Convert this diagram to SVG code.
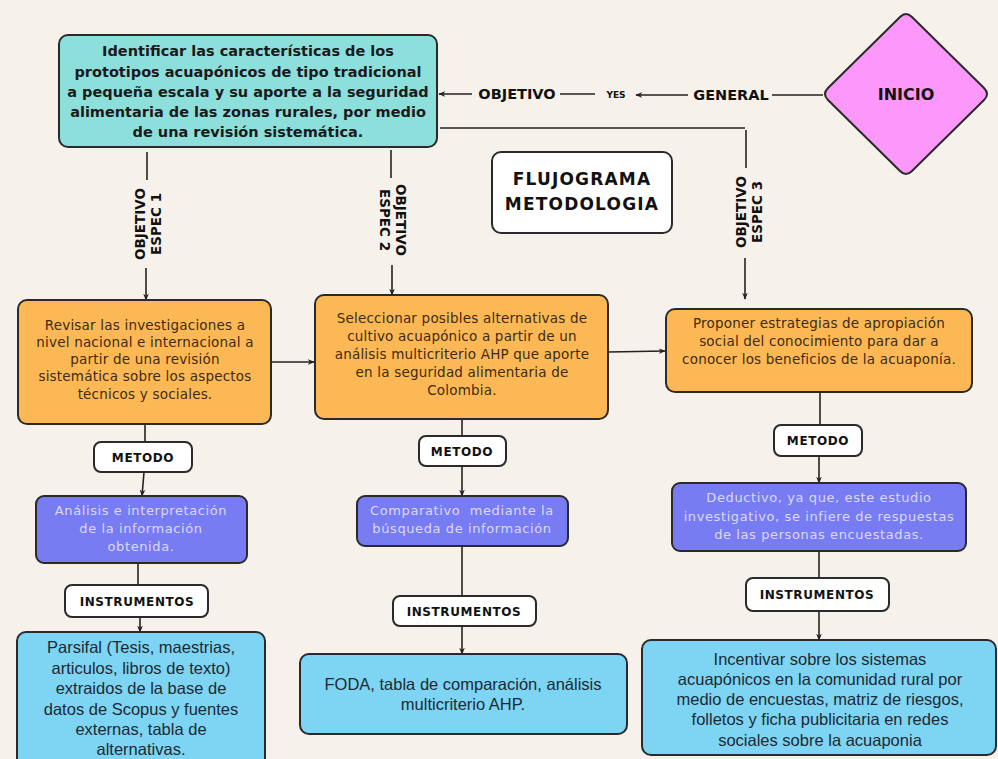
<svg xmlns="http://www.w3.org/2000/svg" width="998" height="759" viewBox="0 0 998 759">
<defs>
<marker id="ah" viewBox="0 0 10 10" refX="9" refY="5" markerWidth="7" markerHeight="7" orient="auto" markerUnits="userSpaceOnUse">
<path d="M0,1 L10,5 L0,9 L3,5 Z" fill="#222"/>
</marker>
<style>
.bg{fill:#f6f2eb}
.box{stroke:#2a2a2a;stroke-width:2}
.teal{fill:#8ddfdc}
.org{fill:#fdb856}
.pur{fill:#777cf3}
.blu{fill:#7dd4f3}
.wht{fill:#ffffff}
.pink{fill:#fc98fa}
.ln{stroke:#222;stroke-width:1.6;fill:none}
.arr{stroke:#222;stroke-width:1.6;fill:none;marker-end:url(#ah)}
.hd{font-family:"DejaVu Sans","Liberation Sans",sans-serif;font-weight:bold;fill:#111;text-anchor:middle}
.tt{font-family:"DejaVu Sans","Liberation Sans",sans-serif;font-weight:bold;fill:#1a1a1a;text-anchor:middle;font-size:14.5px}
.ot{font-family:"DejaVu Sans","Liberation Sans",sans-serif;fill:#3b2c12;text-anchor:middle;font-size:13.5px;letter-spacing:0.2px}
.pt{font-family:"DejaVu Sans","Liberation Sans",sans-serif;fill:#dcd8ff;text-anchor:middle;font-size:13px;letter-spacing:0.6px}
.bt{font-family:"Liberation Sans","DejaVu Sans",sans-serif;fill:#1e2a33;text-anchor:middle;font-size:16.5px}
.lb{font-family:"DejaVu Sans","Liberation Sans",sans-serif;font-weight:bold;fill:#111;text-anchor:middle;font-size:12px;letter-spacing:0.6px}
.vl{font-family:"DejaVu Sans","Liberation Sans",sans-serif;font-weight:bold;fill:#111;text-anchor:middle;font-size:13.5px}
</style>
</defs>
<rect class="bg" x="0" y="0" width="998" height="759"/>

<g id="connectors">
<line class="arr" x1="472" y1="94" x2="439" y2="94"/>
<line class="ln" x1="560" y1="94" x2="595" y2="94"/>
<line class="arr" x1="688" y1="95" x2="636" y2="95"/>
<line class="ln" x1="772" y1="95" x2="823" y2="95"/>
<line class="ln" x1="440" y1="128" x2="745" y2="128"/>
<line class="ln" x1="746" y1="130" x2="746" y2="168"/>
<line class="arr" x1="745" y1="258" x2="745" y2="299"/>
<line class="ln" x1="147" y1="152" x2="147" y2="180"/>
<line class="arr" x1="146" y1="268" x2="146" y2="300"/>
<line class="ln" x1="391" y1="150" x2="391" y2="178"/>
<line class="arr" x1="392" y1="265" x2="392" y2="295"/>
<line class="arr" x1="271" y1="362" x2="314" y2="362"/>
<line class="arr" x1="608" y1="352" x2="665" y2="351"/>
<line class="ln" x1="145" y1="424" x2="145" y2="442"/>
<line class="arr" x1="144" y1="472" x2="142" y2="496"/>
<line class="ln" x1="138" y1="563" x2="138" y2="585"/>
<line class="arr" x1="140" y1="617" x2="140" y2="632"/>
<line class="ln" x1="462" y1="419" x2="462" y2="436"/>
<line class="arr" x1="462" y1="466" x2="462" y2="496"/>
<line class="ln" x1="462" y1="546" x2="462" y2="596"/>
<line class="arr" x1="462" y1="626" x2="462" y2="654"/>
<line class="ln" x1="820" y1="392" x2="820" y2="425"/>
<line class="arr" x1="819" y1="456" x2="819" y2="483"/>
<line class="ln" x1="819" y1="551" x2="819" y2="578"/>
<line class="arr" x1="819" y1="611" x2="819" y2="640"/>
</g>

<g id="labels">
<text class="hd" x="517" y="99" font-size="14.5">OBJETIVO</text>
<text class="hd" x="616" y="98" font-size="9">YES</text>
<text class="hd" x="731" y="100" font-size="14.5">GENERAL</text>
<text class="vl" transform="translate(148,224) rotate(-90)"><tspan x="0" y="-3">OBJETIVO</tspan><tspan x="0" y="13">ESPEC 1</tspan></text>
<text class="vl" transform="translate(393,220) rotate(90)"><tspan x="0" y="-3">OBJETIVO</tspan><tspan x="0" y="13">ESPEC 2</tspan></text>
<text class="vl" transform="translate(749,212) rotate(-90)"><tspan x="0" y="-3">OBJETIVO</tspan><tspan x="0" y="13">ESPEC 3</tspan></text>
</g>

<g id="inicio">
<path class="box pink" d="M900,17 Q906,11 912,17 L984,88 Q990,94 984,100 L912,171 Q906,177 900,171 L828,100 Q822,94 828,88 Z"/>
<text class="hd" x="906" y="100" font-size="16">INICIO</text>
</g>

<g id="objetivo-general">
<rect class="box teal" x="59" y="35" width="378" height="112" rx="9"/>
<text class="tt" x="248" y="56">Identificar las características de los</text>
<text class="tt" x="248" y="77">prototipos acuapónicos de tipo tradicional</text>
<text class="tt" x="248" y="97">a pequeña escala y su aporte a la seguridad</text>
<text class="tt" x="248" y="117">alimentaria de las zonas rurales, por medio</text>
<text class="tt" x="248" y="137">de una revisión sistemática.</text>
</g>

<g id="titulo">
<rect class="box wht" x="492" y="152" width="180" height="81" rx="9"/>
<text class="hd" x="582" y="185" font-size="17" letter-spacing="1.2">FLUJOGRAMA</text>
<text class="hd" x="582" y="210" font-size="17" letter-spacing="1.2">METODOLOGIA</text>
</g>

<g id="espec1">
<rect class="box org" x="18" y="300" width="253" height="124" rx="9"/>
<text class="ot" x="145" y="330">Revisar las investigaciones a</text>
<text class="ot" x="145" y="347">nivel nacional e internacional a</text>
<text class="ot" x="145" y="364">partir de una revisión</text>
<text class="ot" x="145" y="381">sistemática sobre los aspectos</text>
<text class="ot" x="145" y="399">técnicos y sociales.</text>
</g>

<g id="espec2">
<rect class="box org" x="315" y="295" width="293" height="124" rx="9"/>
<text class="ot" x="462" y="323">Seleccionar posibles alternativas de</text>
<text class="ot" x="462" y="341">cultivo acuapónico a partir de un</text>
<text class="ot" x="462" y="359">análisis multicriterio AHP que aporte</text>
<text class="ot" x="462" y="377">en la seguridad alimentaria de</text>
<text class="ot" x="462" y="395">Colombia.</text>
</g>

<g id="espec3">
<rect class="box org" x="666" y="309" width="306" height="83" rx="9"/>
<text class="ot" x="819" y="328">Proponer estrategias de apropiación</text>
<text class="ot" x="819" y="346">social del conocimiento para dar a</text>
<text class="ot" x="819" y="364">conocer los beneficios de la acuaponía.</text>
</g>

<g id="metodo1">
<rect class="box wht" x="94" y="442" width="98" height="30" rx="7"/>
<text class="lb" x="143" y="462">METODO</text>
</g>
<g id="metodo2">
<rect class="box wht" x="419" y="436" width="87" height="30" rx="7"/>
<text class="lb" x="462" y="456">METODO</text>
</g>
<g id="metodo3">
<rect class="box wht" x="774" y="425" width="88" height="31" rx="7"/>
<text class="lb" x="818" y="445">METODO</text>
</g>

<g id="analisis1">
<rect class="box pur" x="36" y="496" width="211" height="67" rx="8"/>
<text class="pt" x="141" y="515">Análisis e interpretación</text>
<text class="pt" x="141" y="533">de la información</text>
<text class="pt" x="141" y="551">obtenida.</text>
</g>
<g id="analisis2">
<rect class="box pur" x="357" y="496" width="211" height="50" rx="8"/>
<text class="pt" x="462" y="515" xml:space="preserve">Comparativo  mediante la</text>
<text class="pt" x="462" y="533">búsqueda de información</text>
</g>
<g id="analisis3">
<rect class="box pur" x="672" y="483" width="294" height="68" rx="8"/>
<text class="pt" x="819" y="502">Deductivo, ya que, este estudio</text>
<text class="pt" x="819" y="521">investigativo, se infiere de respuestas</text>
<text class="pt" x="819" y="539">de las personas encuestadas.</text>
</g>

<g id="instrumentos1">
<rect class="box wht" x="65" y="585" width="143" height="32" rx="7"/>
<text class="lb" x="137" y="606">INSTRUMENTOS</text>
</g>
<g id="instrumentos2">
<rect class="box wht" x="393" y="596" width="143" height="30" rx="7"/>
<text class="lb" x="464" y="616">INSTRUMENTOS</text>
</g>
<g id="instrumentos3">
<rect class="box wht" x="746" y="578" width="143" height="33" rx="7"/>
<text class="lb" x="817" y="599">INSTRUMENTOS</text>
</g>

<g id="herramientas1">
<rect class="box blu" x="17" y="632" width="248" height="140" rx="9"/>
<text class="bt" x="141" y="653">Parsifal (Tesis, maestrias,</text>
<text class="bt" x="141" y="674">articulos, libros de texto)</text>
<text class="bt" x="141" y="694">extraidos de la base de</text>
<text class="bt" x="141" y="715">datos de Scopus y fuentes</text>
<text class="bt" x="141" y="735">externas, tabla de</text>
<text class="bt" x="141" y="755">alternativas.</text>
</g>
<g id="herramientas2">
<rect class="box blu" x="300" y="654" width="327" height="80" rx="9"/>
<text class="bt" x="463" y="690">FODA, tabla de comparación, análisis</text>
<text class="bt" x="463" y="710">multicriterio AHP.</text>
</g>
<g id="herramientas3">
<rect class="box blu" x="642" y="640" width="354" height="115" rx="9"/>
<text class="bt" x="820" y="665">Incentivar sobre los sistemas</text>
<text class="bt" x="820" y="685">acuapónicos en la comunidad rural por</text>
<text class="bt" x="820" y="705">medio de encuestas, matriz de riesgos,</text>
<text class="bt" x="820" y="725">folletos y ficha publicitaria en redes</text>
<text class="bt" x="820" y="746">sociales sobre la acuaponia</text>
</g>
</svg>
